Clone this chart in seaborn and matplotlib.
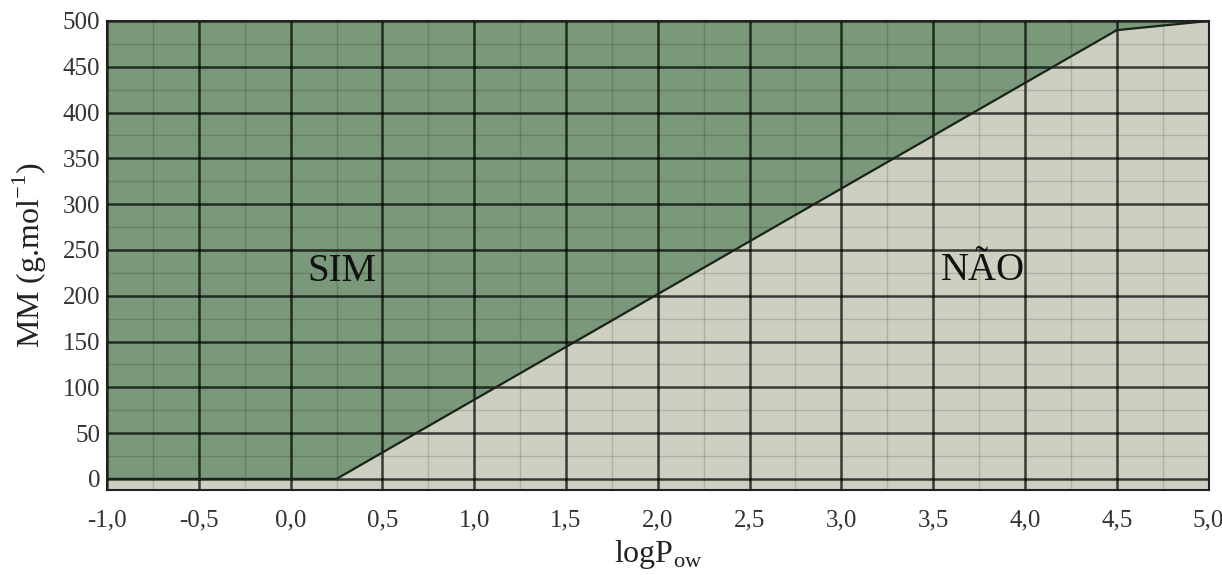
import numpy as np
import pandas as pd
import seaborn as sns
from matplotlib import pyplot as plt
from matplotlib.ticker import MultipleLocator, FuncFormatter

# boundary between the two regions (logPow vs molar mass)
boundary_x = [-1.0, 0.25, 4.5, 5.0]
boundary_y = [0, 0, 490, 500]
x_ticks = [-1.0, -0.5, 0.0, 0.5, 1.0, 1.5, 2.0, 2.5, 3.0, 3.5, 4.0, 4.5, 5.0]
y_ticks = [0, 50, 100, 150, 200, 250, 300, 350, 400, 450, 500]
region_labels = ["SIM", "NÃO"]
region_pos = [(0.28, 226), (3.77, 228)]

GREEN = "#7a987a"
GRAY = "#cdcfc0"

sns.set_style("white")
plt.rcParams['font.family'] = ['Liberation Serif', 'DejaVu Serif']

fig = plt.figure(figsize=(12.22, 5.75), dpi=100)
ax = fig.add_axes([0.0876, 0.148, 0.9014, 0.8155])
ax.set_facecolor(GRAY)

df = pd.DataFrame({"logPow": boundary_x, "MM": boundary_y})
ax.fill_between(df["logPow"], df["MM"], 500, color=GREEN, zorder=1, linewidth=0)
sns.lineplot(data=df, x="logPow", y="MM", color="#1a241a", linewidth=1.6, ax=ax, zorder=4)

ax.set_xlim(-1.0, 5.0)
ax.set_ylim(-12, 500)
ax.set_xticks(x_ticks)
ax.set_yticks(y_ticks)
ax.xaxis.set_minor_locator(MultipleLocator(0.25))
ax.yaxis.set_minor_locator(MultipleLocator(25))
ax.xaxis.set_major_formatter(FuncFormatter(lambda v, p: f"{v:.1f}".replace(".", ",")))

ax.set_axisbelow(False)
ax.grid(which="major", color="black", alpha=0.72, linewidth=1.8, zorder=2)
ax.grid(which="minor", color="black", alpha=0.15, linewidth=1.0, zorder=2)
ax.tick_params(axis="both", which="both", length=0, labelsize=18, colors="#333333")
ax.tick_params(axis="x", pad=14)
ax.tick_params(axis="y", pad=5)

for s in ax.spines.values():
    s.set_color("#222222")
    s.set_linewidth(1.5)
    s.set_zorder(5)

for label, (lx, ly) in zip(region_labels, region_pos):
    ax.text(lx, ly, label, fontsize=28, ha="center", va="center", color="#111111", zorder=6)

ax.set_xlabel("logP$_{\\mathregular{ow}}$", fontsize=23, color="#222222", labelpad=5)
ax.set_ylabel("MM (g.mol$^{\\mathregular{-1}}$)", fontsize=23, color="#222222", labelpad=10)

fig.savefig("out.png", dpi=100)
